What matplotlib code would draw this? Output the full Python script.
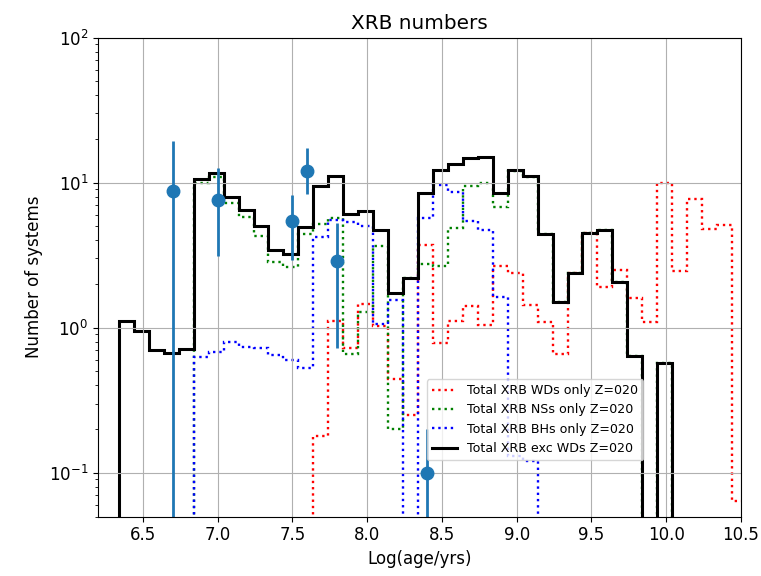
import numpy as np
import matplotlib
matplotlib.use("Agg")
import matplotlib.pyplot as plt

# bin edges in log(age/yrs), 0.1 dex wide
edges = np.round(6.34 + 0.1 * np.arange(43), 2)

wd_only = [0, 0, 0, 0, 0, 0, 0, 0, 0, 0,
           0, 0, 0, 0.18, 1.12, 0.72, 1.45, 1.02, 0.44, 0.25,
           3.74, 0.79, 1.12, 1.41, 1.05, 2.65, 2.4, 1.44, 1.1, 0.66,
           2.4, 4.5, 1.92, 2.48, 1.6, 1.09, 10.0, 2.44, 7.66, 4.8,
           5.1, 0.064]

ns_only = [0, 0, 0, 0, 0, 10.0, 11.0, 7.2, 5.75, 4.3,
           2.82, 2.62, 4.4, 5.15, 5.7, 0.66, 1.28, 3.64, 0.2, 2.2,
           2.75, 2.65, 4.9, 9.5, 10.0, 6.8, 12.0, 11.0, 4.43, 1.51,
           2.4, 4.5, 4.75, 2.05, 0.64, 0, 0.57, 0, 0, 0,
           0, 0]

bh_only = [0, 0, 0, 0, 0, 0.63, 0.68, 0.80, 0.74, 0.73,
           0.65, 0.60, 0.53, 4.2, 5.5, 5.35, 5.0, 1.06, 1.55, 0,
           5.7, 9.6, 8.65, 5.4, 4.75, 1.64, 0.13, 0.12, 0, 0,
           0, 0, 0, 0, 0, 0, 0, 0, 0, 0,
           0, 0]

exc_wd = [1.12, 0.95, 0.70, 0.67, 0.71, 10.6, 11.7, 8.0, 6.5, 5.0,
          3.45, 3.2, 4.95, 9.5, 11.1, 6.1, 6.4, 4.7, 1.73, 2.2,
          8.5, 12.2, 13.5, 14.8, 14.9, 8.5, 12.2, 11.1, 4.43, 1.51,
          2.4, 4.5, 4.75, 2.05, 0.64, 0, 0.57, 0, 0, 0,
          0, 0]

# observed counts with error bars
obs_age = [6.7, 7.0, 7.5, 7.6, 7.8, 8.4]
obs_num = [8.75, 7.6, 5.45, 12.1, 2.86, 0.1]
obs_lo = [8.75, 4.47, 2.53, 3.8, 2.14, 0.1]
obs_hi = [10.65, 5.1, 2.8, 5.3, 2.41, 0.1]

fig = plt.figure(figsize=(7.61, 5.76), dpi=100)
ax = fig.add_axes([98 / 761, (576 - 516.5) / 576, 643 / 761, 479 / 576])

ax.stairs(wd_only, edges, color="r", linestyle=":", linewidth=1.7,
          label="Total XRB WDs only Z=020")
ax.stairs(ns_only, edges, color="g", linestyle=":", linewidth=1.7,
          label="Total XRB NSs only Z=020")
ax.stairs(bh_only, edges, color="b", linestyle=":", linewidth=1.7,
          label="Total XRB BHs only Z=020")
ax.stairs(exc_wd, edges, color="k", linewidth=2.2,
          label="Total XRB exc WDs Z=020")
ax.errorbar(obs_age, obs_num, yerr=[obs_lo, obs_hi], fmt="o", color="C0",
            markersize=9, elinewidth=2)

ax.set_yscale("log")
ax.set_ylim(0.05, 100)
ax.set_xlim(6.2, 10.5)
ax.set_xticks(np.arange(6.5, 10.51, 0.5))
ax.grid(True)
ax.tick_params(labelsize=12)

ax.set_title("XRB numbers", fontsize=14.4)
ax.set_xlabel("Log(age/yrs)", fontsize=12)
ax.set_ylabel("Number of systems", fontsize=12)

ax.legend(loc="upper left", bbox_to_anchor=(0.511, 0.287), borderaxespad=0,
          fontsize=9.1)

fig.savefig("out.png", dpi=100)
